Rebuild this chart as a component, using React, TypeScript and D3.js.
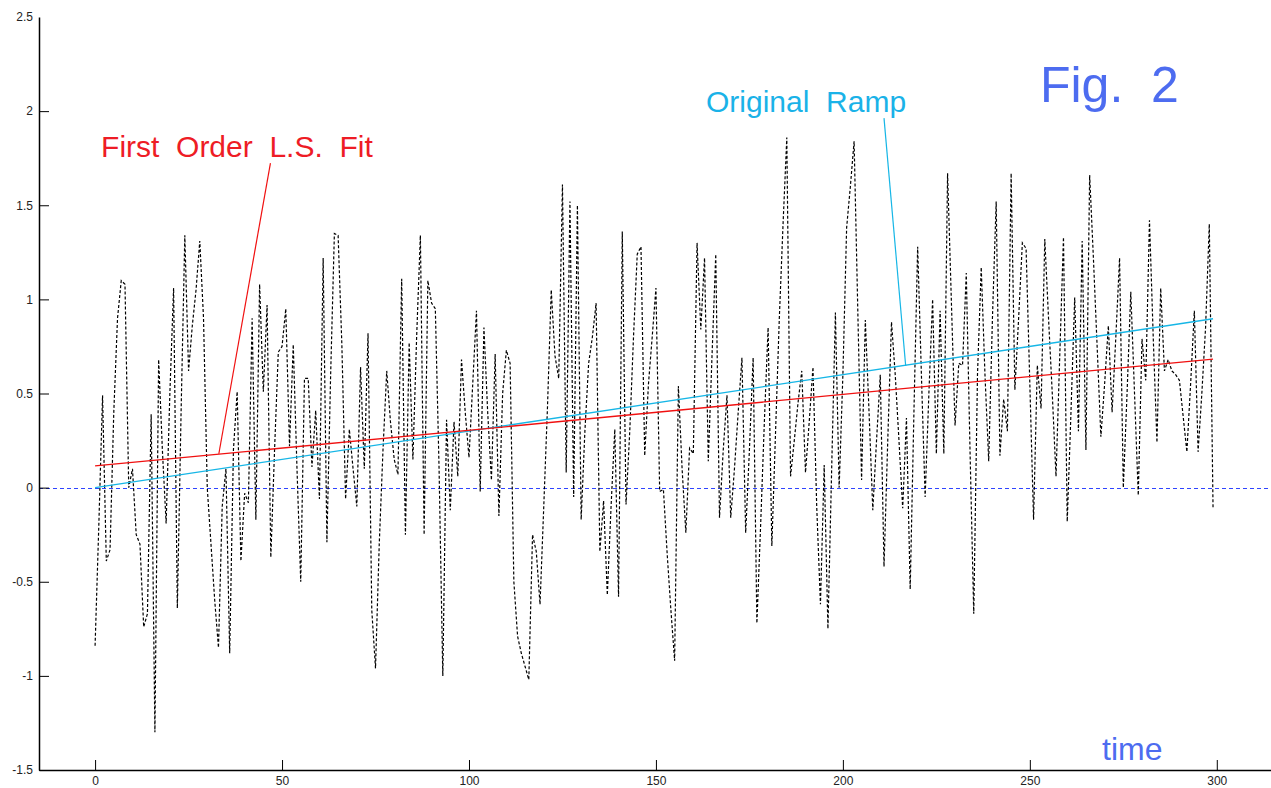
import React, { useEffect, useRef } from 'react';
import * as d3 from 'd3';

// noisy samples, one per time step
const signal = [
  -0.84, -0.2, 0.49, -0.39, -0.33, 0.4, 0.9, 1.1, 1.08, 0.0,
  0.1, -0.25, -0.3, -0.74, -0.67, 0.39, -1.3, 0.68, 0.2, -0.19,
  0.5, 1.06, -0.64, 0.4, 1.34, 0.62, 0.86, 1.05, 1.31, 0.9,
  0.0, -0.3, -0.6, -0.85, -0.1, 0.1, -0.88, 0.2, 0.51, -0.39,
  -0.03, -0.08, 0.9, -0.17, 1.08, 0.51, 0.97, -0.37, 0.2, 0.72,
  0.75, 0.95, 0.22, 0.76, 0.1, -0.5, 0.58, 0.58, 0.11, 0.41,
  -0.06, 1.22, -0.29, 0.6, 1.35, 1.34, 0.76, -0.06, 0.31, 0.1,
  -0.1, 0.64, 0.1, 0.82, -0.65, -0.96, -0.3, 0.2, 0.62, 0.35,
  0.15, 0.07, 1.11, -0.25, 0.77, 0.15, 0.8, 1.34, -0.25, 1.1,
  0.98, 0.95, 0.1, -1.0, 0.36, -0.12, 0.35, 0.06, 0.68, 0.4,
  0.16, 0.55, 0.94, -0.02, 0.85, 0.4, 0.04, 0.71, -0.15, 0.5,
  0.73, 0.66, -0.5, -0.79, -0.88, -0.95, -1.02, -0.25, -0.34, -0.62,
  -0.1, 0.43, 1.05, 0.7, 0.58, 1.61, 0.08, 1.52, -0.05, 1.5,
  -0.17, 0.3, 0.66, 0.8, 0.98, -0.34, -0.07, -0.57, -0.1, 0.31,
  -0.58, 1.36, -0.09, 0.3, 0.8, 1.24, 1.28, 0.17, 0.55, 0.8,
  1.06, -0.02, -0.01, -0.35, -0.65, -0.92, 0.54, 0.1, -0.24, 0.21,
  0.18, 1.3, 0.84, 1.22, 0.14, 0.7, 1.24, -0.16, 0.2, 0.49,
  -0.16, 0.1, 0.4, 0.69, -0.24, 0.2, 0.69, -0.72, -0.2, 0.35,
  0.85, -0.31, 0.3, 0.9, 1.4, 1.86, 0.06, 0.25, 0.45, 0.62,
  0.08, 0.35, 0.64, -0.1, -0.62, 0.12, -0.75, 0.1, 0.93, 0.0,
  0.6, 1.38, 1.6, 1.84, 0.93, 0.04, 0.89, 0.4, -0.12, 0.25,
  0.6, -0.42, 0.25, 0.88, 0.6, 0.25, -0.11, 0.37, -0.54, 0.4,
  1.28, 0.6, -0.05, 0.5, 1.0, 0.18, 0.94, 0.18, 1.67, 1.0,
  0.33, 0.66, 0.65, 1.14, 0.2, -0.67, 0.6, 1.17, 0.6, 0.14,
  0.9, 1.52, 0.17, 0.47, 0.3, 1.67, 0.52, 0.9, 1.3, 1.27,
  0.55, -0.17, 0.65, 0.42, 1.32, 0.9, 0.5, 0.06, 0.7, 1.33,
  -0.18, 0.4, 1.01, 0.3, 1.31, 0.2, 1.66, 1.22, 0.75, 0.27,
  0.55, 0.86, 0.4, 0.8, 1.22, 0.0, 0.5, 1.04, 0.5, -0.04,
  0.79, 0.57, 1.42, 0.8, 0.24, 1.06, 0.62, 0.68, 0.62, 0.6,
  0.57, 0.38, 0.19, 0.55, 0.94, 0.19, 0.5, 0.85, 1.4, -0.11,
];

// straight lines (value at start / end of the record)
const fitLine = [0.115, 0.683];
const rampLine = [0, 0.897];

const xTicks = [0, 50, 100, 150, 200, 250, 300];
const yTicks = [-1.5, -1, -0.5, 0, 0.5, 1, 1.5, 2, 2.5];

const W = 1271;
const H = 788;

function App() {
  const ref = useRef<SVGSVGElement>(null);

  useEffect(() => {
    const svg = d3.select(ref.current);
    svg.selectAll('*').remove();

    const last = signal.length - 1;
    const x = d3.scaleLinear().domain([-15, 314.5]).range([39, 1271]);
    const y = d3.scaleLinear().domain([-1.5, 2.5]).range([770, 17]);
    const font = '"Liberation Sans", Arial, sans-serif';

    // zero reference line
    const y0 = Math.round(y(0)) + 0.5;
    svg.append('line')
      .attr('x1', x.range()[0]).attr('x2', x.range()[1])
      .attr('y1', y0).attr('y2', y0)
      .attr('stroke', '#2f44ff').attr('stroke-width', 1)
      .attr('shape-rendering', 'crispEdges')
      .attr('stroke-dasharray', '4,3');

    // noisy signal
    const line = d3.line<number>().x((d, i) => x(i)).y((d) => y(d));
    svg.append('path')
      .datum(signal)
      .attr('d', line)
      .attr('fill', 'none')
      .attr('stroke', '#000')
      .attr('stroke-width', 1.2)
      .attr('stroke-dasharray', '3,2');

    // ramp + fit
    svg.append('line')
      .attr('x1', x(0)).attr('y1', y(rampLine[0]))
      .attr('x2', x(last)).attr('y2', y(rampLine[1]))
      .attr('stroke', '#16b6e6').attr('stroke-width', 1.3);
    svg.append('line')
      .attr('x1', x(0)).attr('y1', y(fitLine[0]))
      .attr('x2', x(last)).attr('y2', y(fitLine[1]))
      .attr('stroke', '#f01010').attr('stroke-width', 1.3);

    // axes
    const xAxis = d3.axisBottom(x).tickValues(xTicks).tickSizeInner(-10).tickSizeOuter(0).tickPadding(6);
    const gx = svg.append('g').attr('transform', `translate(0,${y(-1.5)})`).call(xAxis);
    const yAxis = d3.axisLeft(y).tickValues(yTicks).tickSizeInner(-10).tickSizeOuter(0).tickPadding(6)
      .tickFormat((d) => String(d));
    const gy = svg.append('g').attr('transform', `translate(${x(-15)},0)`).call(yAxis);
    [gx, gy].forEach((g) => {
      g.selectAll('text').attr('font-family', font).attr('font-size', 12).attr('fill', '#222');
      g.select('.domain').attr('stroke', '#000').attr('stroke-width', 1.5);
      g.selectAll('.tick line').attr('stroke', '#000');
    });
    gy.select('.tick:last-of-type line').remove();

    // annotations
    const txt = (t: number, v: number, s: string, size: number, color: string) =>
      svg.append('text')
        .attr('x', x(t)).attr('y', y(v))
        .attr('font-family', font).attr('font-size', size)
        .attr('fill', color)
        .style('white-space', 'pre')
        .text(s);

    txt(1.6, 1.756, 'First  Order  L.S.  Fit', 30, '#ee1c25');
    txt(163.4, 1.995, 'Original  Ramp', 30, '#1ab2e8');
    txt(252.7, 2.048, 'Fig.  2', 50, '#4d6cf0');
    txt(269.3, -1.447, 'time', 32, '#4d6cf0');

    svg.append('line')
      .attr('x1', x(46.9)).attr('y1', y(1.724))
      .attr('x2', x(33.1)).attr('y2', y(0.18))
      .attr('stroke', '#f01010').attr('stroke-width', 1.2);
    svg.append('line')
      .attr('x1', x(211)).attr('y1', y(1.963))
      .attr('x2', x(216.8)).attr('y2', y(0.646))
      .attr('stroke', '#16b6e6').attr('stroke-width', 1.2);
  }, []);

  return (
    <svg
      ref={ref}
      width={W}
      height={H}
      style={{ position: 'absolute', left: 0, top: 0, background: '#fff' }}
    />
  );
}

export default App;
